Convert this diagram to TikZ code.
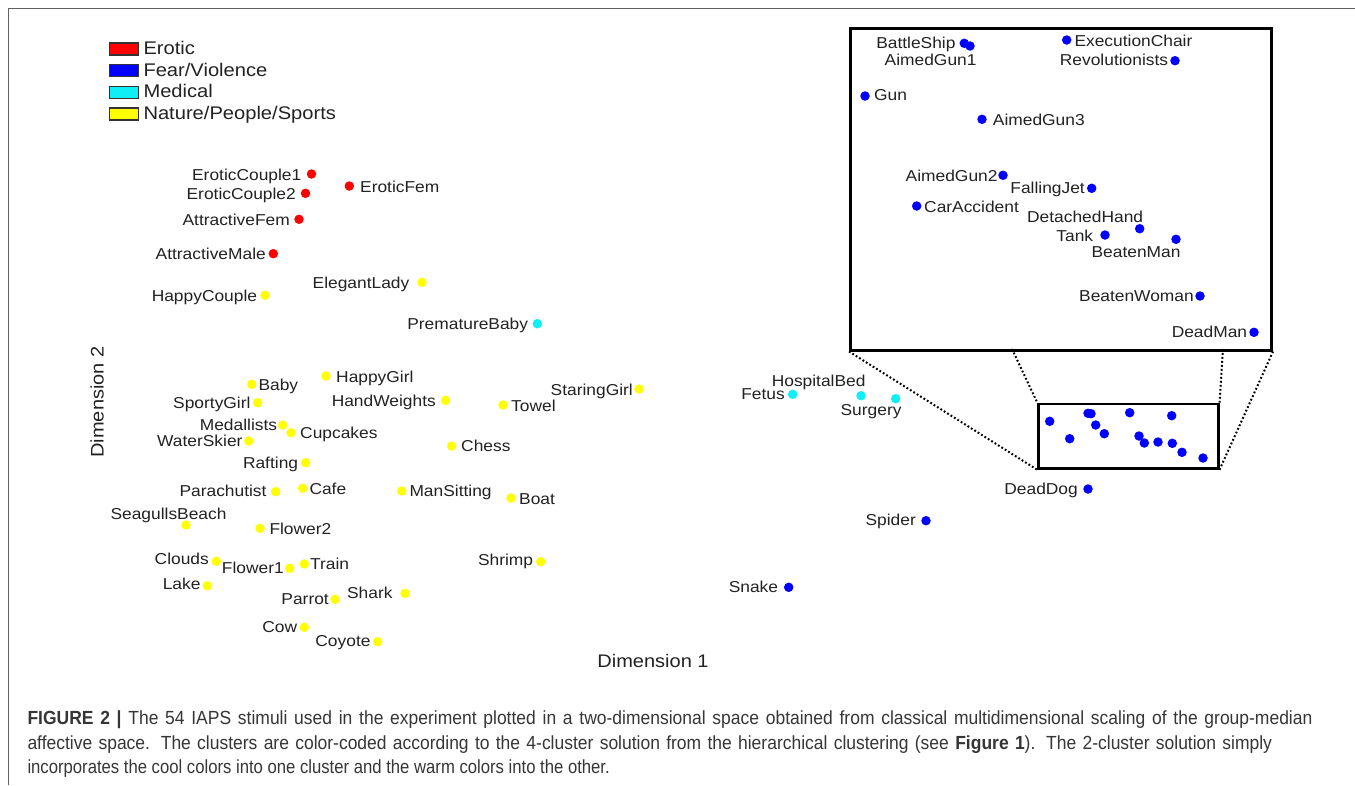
\documentclass[tikz,border=0pt]{standalone}
\usepackage{fontspec}
\setmainfont{Liberation Sans}
\newfontfamily\plotfont{Liberation Sans}[FakeStretch=1.1]
\newfontfamily\capfont{Liberation Sans}[FakeStretch=0.878]
\newfontfamily\capwfont{Liberation Sans}[FakeStretch=0.92]
\definecolor{txt}{HTML}{222222}
\definecolor{capgray}{HTML}{363636}
\definecolor{framegray}{HTML}{606060}
\definecolor{fred}{HTML}{FF0000}
\definecolor{fblue}{HTML}{0000FF}
\definecolor{fcyan}{HTML}{10F0F4}
\definecolor{fyellow}{HTML}{FFFF00}
\newcommand\stimL[7]{%
  \node[pt,fill=#2] (#1) at (#3,#4) {};
  \node[lab,anchor=base east] (#1-t) at (#5,#6) {#7};}
\newcommand\stimR[7]{%
  \node[pt,fill=#2] (#1) at (#3,#4) {};
  \node[lab,anchor=base west] (#1-t) at (#5,#6) {#7};}
\begin{document}
\begin{tikzpicture}[x=1pt,y=-1pt,
  pt/.style={circle,inner sep=0pt,minimum size=9.5pt},
  lab/.style={inner sep=0pt,text=txt,font=\plotfont\fontsize{15.8}{18}\selectfont},
  legbox/.style={draw=black!80,line width=1.2pt,minimum width=29pt,minimum height=12pt,inner sep=0pt,anchor=north west},
  legtxt/.style={inner sep=0pt,text=txt,anchor=base west,font=\plotfont\fontsize{18.3}{20}\selectfont},
  axistxt/.style={inner sep=0pt,text=txt,font=\plotfont\fontsize{18.2}{20}\selectfont},
  captxt/.style={inner sep=0pt,text=capgray,anchor=base west,font=\capfont\fontsize{19}{22}\selectfont},
  capwtxt/.style={inner sep=0pt,text=capgray,anchor=base west,font=\capwfont\fontsize{19}{22}\selectfont},
  zoomline/.style={line width=2pt,dash pattern=on 1.8pt off 2.2pt,black}]
\fill[white] (0,0) rectangle (1355,785);
\useasboundingbox (0,0) rectangle (1355,785);
% outer frame
\draw[framegray,line width=1.5pt] (8.3,785) -- (8.3,8.3) -- (1355,8.3);
% legend
\node[legbox,fill=fred] (lg1) at (109,42.3) {};
\node[legtxt] (lg1t) at (143.3,54.3) {Erotic};
\node[legbox,fill=fblue] (lg2) at (109,64) {};
\node[legtxt] (lg2t) at (143.3,76) {Fear/Violence};
\node[legbox,fill=fcyan] (lg3) at (109,85.7) {};
\node[legtxt] (lg3t) at (143.3,97.7) {Medical};
\node[legbox,fill=fyellow] (lg4) at (109,107.3) {};
\node[legtxt] (lg4t) at (143.3,119.3) {Nature/People/Sports};
% axis labels
\node[axistxt] (ax1) at (653,661) {Dimension 1};
\node[axistxt,rotate=90] (ax2) at (97,402) {Dimension 2};
% red
\stimL{ec1}{fred}{311.5}{174}{301.5}{180}{EroticCouple1}
\stimL{ec2}{fred}{305.5}{193.3}{296}{199}{EroticCouple2}
\stimR{ef}{fred}{349.3}{186}{360}{192}{EroticFem}
\stimL{af}{fred}{299}{219.3}{290}{225}{AttractiveFem}
\stimL{am}{fred}{273.3}{253.7}{266}{259.5}{AttractiveMale}
% yellow
\stimL{hc}{fyellow}{265}{295.3}{257.3}{301}{HappyCouple}
\stimL{el}{fyellow}{422}{282.3}{409.5}{288}{ElegantLady}
\stimR{baby}{fyellow}{251.7}{384.3}{258.3}{390}{Baby}
\stimR{hg}{fyellow}{326}{376}{336}{382}{HappyGirl}
\stimL{sg}{fyellow}{257.7}{402.7}{250.7}{408.5}{SportyGirl}
\stimL{hw}{fyellow}{445.7}{400.3}{436}{406}{HandWeights}
\stimR{towel}{fyellow}{503}{405}{511}{411}{Towel}
\stimL{stg}{fyellow}{639}{389}{633}{395}{StaringGirl}
\stimL{med}{fyellow}{282.7}{425}{277.3}{430.5}{Medallists}
\stimR{cup}{fyellow}{291}{432.7}{300}{438.5}{Cupcakes}
\stimL{ws}{fyellow}{248.7}{441}{242.7}{446.5}{WaterSkier}
\stimR{chess}{fyellow}{451.7}{446}{461}{451.5}{Chess}
\stimL{raft}{fyellow}{305.7}{462.7}{298.3}{468}{Rafting}
\stimL{para}{fyellow}{275.7}{491.7}{266.7}{496}{Parachutist}
\stimR{cafe}{fyellow}{302.7}{488.3}{309.3}{494}{Cafe}
\stimR{ms}{fyellow}{401.7}{491}{409.3}{496.5}{ManSitting}
\stimR{boat}{fyellow}{511}{498}{519}{504}{Boat}
\stimL{sb}{fyellow}{186}{525}{226.7}{519}{SeagullsBeach}
\stimR{fl2}{fyellow}{260}{528.3}{269.3}{534}{Flower2}
\stimL{clouds}{fyellow}{216.3}{561.3}{209}{564.5}{Clouds}
\stimL{fl1}{fyellow}{289.7}{568.3}{284}{573.3}{Flower1}
\stimR{train}{fyellow}{304.3}{564}{310}{569.3}{Train}
\stimL{lake}{fyellow}{207.3}{585.7}{200.7}{589.3}{Lake}
\stimL{shrimp}{fyellow}{540.7}{561.7}{533.3}{565}{Shrimp}
\stimL{parrot}{fyellow}{335}{599.3}{329}{604}{Parrot}
\stimL{shark}{fyellow}{405}{593.3}{392.7}{598.3}{Shark}
\stimL{cow}{fyellow}{304.3}{627.3}{297.3}{632.7}{Cow}
\stimL{coyote}{fyellow}{377.7}{641.7}{370.7}{646}{Coyote}
% cyan
\stimL{pb}{fcyan}{537.3}{323.7}{528.3}{329}{PrematureBaby}
\stimL{fetus}{fcyan}{792.7}{394.3}{785}{399.5}{Fetus}
\stimL{hb}{fcyan}{861}{395.7}{865.7}{386}{HospitalBed}
\stimL{surg}{fcyan}{895.7}{398.7}{901.7}{415}{Surgery}
% blue outside
\stimL{dd}{fblue}{1088}{489}{1078}{494}{DeadDog}
\stimL{spider}{fblue}{926}{520.7}{916}{525}{Spider}
\stimL{snake}{fblue}{788.7}{587.3}{778.3}{592}{Snake}
% small zoom box
\node[draw=black,line width=2.5pt,minimum width=179.7pt,minimum height=64.6pt,inner sep=0pt,anchor=north west] (zbox) at (1037.3,402.7) {};
\foreach \n/\x/\y in {z1/1049.7/421.3,z2/1069.7/438.7,z3/1088/413.3,z4/1091/413.7,z5/1095.7/425,z6/1104.3/433.7,z7/1129.7/412.7,z8/1139/436,z9/1144.3/443,z10/1158/442,z11/1171.7/415.7,z12/1172.3/443.3,z13/1182/452.3,z14/1203/458}
  \node[pt,fill=fblue] (\n) at (\x,\y) {};
% inset
\node[draw=black,line width=3pt,minimum width=421pt,minimum height=321.5pt,inner sep=0pt,anchor=north west] (inset) at (849,27) {};
\coordinate (ia) at (1012,349);
\coordinate (ib) at (1223,349);
\draw[zoomline] (inset.south west) -- (zbox.south west);
\draw[zoomline] (ia) -- (zbox.north west);
\draw[zoomline] (ib) -- (zbox.north east);
\draw[zoomline] (inset.south east) -- (zbox.south east);
\stimL{bs}{fblue}{964.3}{43.3}{955.7}{48.3}{BattleShip}
\stimL{ag1}{fblue}{970}{46}{976.7}{65}{AimedGun1}
\stimR{ec}{fblue}{1066.7}{40}{1074.3}{46.5}{ExecutionChair}
\stimL{rev}{fblue}{1175}{60.7}{1168.3}{65.5}{Revolutionists}
\stimR{gun}{fblue}{865}{96}{874}{100.5}{Gun}
\stimR{ag3}{fblue}{982}{119.3}{992.7}{125}{AimedGun3}
\stimL{ag2}{fblue}{1003}{175.3}{997.7}{181}{AimedGun2}
\stimL{fj}{fblue}{1091.7}{188.3}{1085}{193.5}{FallingJet}
\stimR{ca}{fblue}{916.7}{206}{924}{212}{CarAccident}
\stimL{dh}{fblue}{1139.7}{228.7}{1143.3}{222.3}{DetachedHand}
\stimL{tank}{fblue}{1105}{235}{1093.3}{241}{Tank}
\stimL{bm}{fblue}{1176}{239.3}{1180.7}{257}{BeatenMan}
\stimL{bw}{fblue}{1200}{296}{1194}{301.5}{BeatenWoman}
\stimL{dm}{fblue}{1254}{332.3}{1247.3}{337}{DeadMan}
% caption
\node[capwtxt] (cap1) at (27.3,724.3) {\makebox[1285pt][s]{\textbf{FIGURE 2 |} The 54 IAPS stimuli used in the experiment plotted in a two-dimensional space obtained from classical multidimensional scaling of the group-median}};
\node[capwtxt] (cap2) at (27.3,749.3) {\makebox[1244.5pt][s]{affective space. The clusters are color-coded according to the 4-cluster solution from the hierarchical clustering (see \textbf{Figure 1}). The 2-cluster solution simply}};
\node[captxt] (cap3) at (27.3,773.3) {incorporates the cool colors into one cluster and the warm colors into the other.};
\end{tikzpicture}
\end{document}
